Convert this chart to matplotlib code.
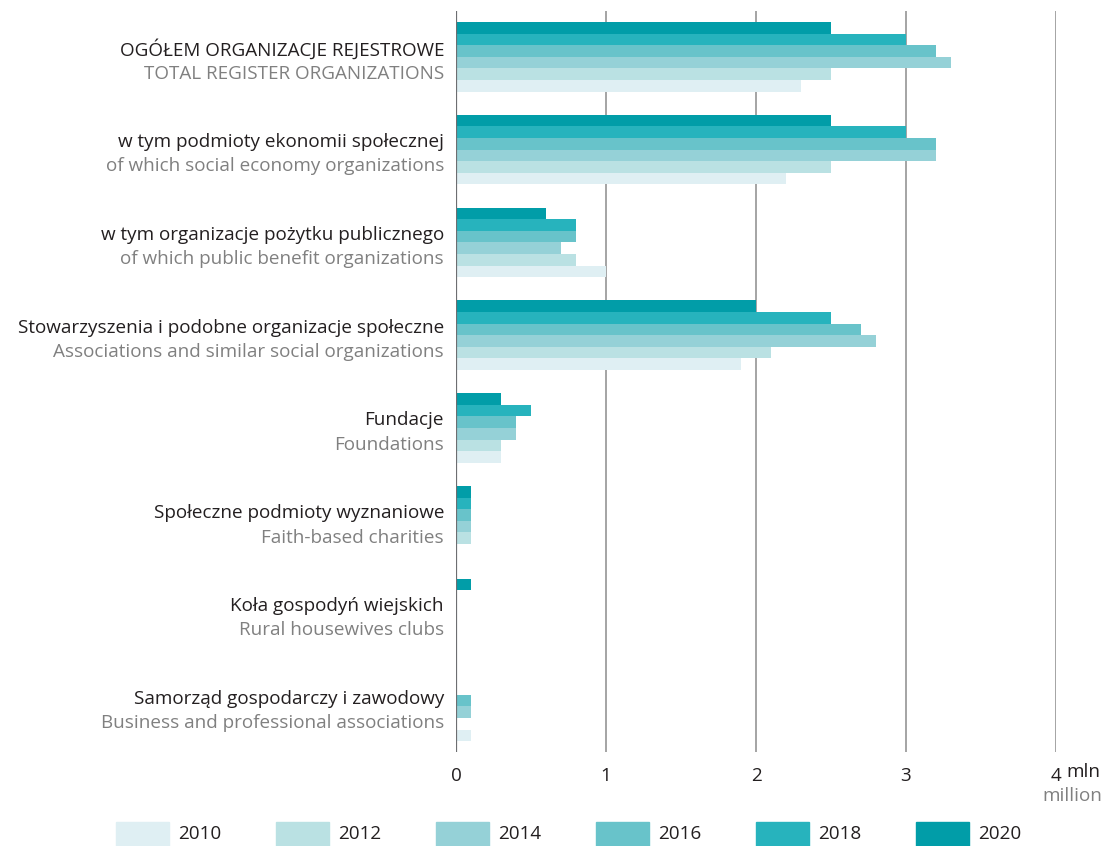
import numpy as np
import matplotlib
matplotlib.use("Agg")
import matplotlib.pyplot as plt
from matplotlib.patches import Rectangle

plt.rcParams['font.family'] = ['Open Sans', 'DejaVu Sans']

# Category labels (Polish / English)
labels_pl = [
    "OGÓŁEM ORGANIZACJE REJESTROWE",
    "w tym podmioty ekonomii społecznej",
    "w tym organizacje pożytku publicznego",
    "Stowarzyszenia i podobne organizacje społeczne",
    "Fundacje",
    "Społeczne podmioty wyznaniowe",
    "Koła gospodyń wiejskich",
    "Samorząd gospodarczy i zawodowy",
]
labels_en = [
    "TOTAL REGISTER ORGANIZATIONS",
    "of which social economy organizations",
    "of which public benefit organizations",
    "Associations and similar social organizations",
    "Foundations",
    "Faith-based charities",
    "Rural housewives clubs",
    "Business and professional associations",
]

years = ["2010", "2012", "2014", "2016", "2018", "2020"]

# values in million
v2010 = [2.3, 2.2, 1.0, 1.9, 0.3, 0.0, 0.0, 0.1]
v2012 = [2.5, 2.5, 0.8, 2.1, 0.3, 0.1, 0.0, 0.0]
v2014 = [3.3, 3.2, 0.7, 2.8, 0.4, 0.1, 0.0, 0.1]
v2016 = [3.2, 3.2, 0.8, 2.7, 0.4, 0.1, 0.0, 0.1]
v2018 = [3.0, 3.0, 0.8, 2.5, 0.5, 0.1, 0.0, 0.0]
v2020 = [2.5, 2.5, 0.6, 2.0, 0.3, 0.1, 0.1, 0.0]

colors = ["#dfeff3", "#bae1e3", "#95d1d7", "#68c3ca", "#27b3bd", "#019da8"]
series = [v2010, v2012, v2014, v2016, v2018, v2020]

xticks = [0, 1, 2, 3, 4]

FS = 13.6
DARK = '#231f20'
GREY = '#808080'

W, H = 1104, 846
fig = plt.figure(figsize=(W / 100, H / 100), dpi=100)

ax_left, ax_right = 456, 1056
ax_top, ax_bottom = 11, 752
ax = fig.add_axes([ax_left / W, 1 - ax_bottom / H,
                   (ax_right - ax_left) / W, (ax_bottom - ax_top) / H])

bar_px = 11.6
n_groups = len(labels_pl)
pitch = 8
top_pad = (22 - ax_top) / bar_px
total_units = (ax_bottom - ax_top) / bar_px
ax.set_ylim(total_units - top_pad, -top_pad)
ax.set_xlim(0, 4)

group_pos = np.arange(n_groups) * pitch
# 2020 on top of each group, 2010 at the bottom
for k, (vals, col) in enumerate(zip(series, colors)):
    slot = len(series) - 1 - k
    ys = group_pos + slot
    ax.barh(ys, vals, height=1.0, align='edge', color=col,
            edgecolor='none', zorder=2)

# grid lines
for x in xticks[1:]:
    ax.axvline(x, color='#9d9d9d', lw=1.3, zorder=1)
ax.axvline(0, color='#6d6e71', lw=1.6, zorder=3)

for s in ax.spines.values():
    s.set_visible(False)
ax.set_yticks([])
ax.set_xticks(xticks)
ax.set_xticklabels(["0", "1", "2", "3", "4"])
ax.tick_params(axis='x', length=0, pad=11, labelsize=FS, labelcolor=DARK)

trans = ax.get_yaxis_transform()
for i in range(n_groups):
    c = group_pos[i] + 3
    ax.text(-0.02, c - 0.65, labels_pl[i], transform=trans, ha='right',
            va='center', fontsize=FS, color=DARK)
    ax.text(-0.02, c + 1.45, labels_en[i], transform=trans, ha='right',
            va='center', fontsize=FS, color=GREY)

# unit labels next to the last tick
fig.text(1066 / W, 1 - 772 / H, "mln", ha='left', va='center',
         fontsize=FS, color=DARK)
fig.text(1102 / W, 1 - 796 / H, "million", ha='right', va='center',
         fontsize=FS, color=GREY)

# legend
for k, (yr, col) in enumerate(zip(years, colors)):
    x0 = 116 + 160 * k
    fig.patches.append(Rectangle((x0 / W, 1 - 847 / H), 53 / W, 25 / H,
                                 transform=fig.transFigure, color=col,
                                 zorder=1))
    fig.text((x0 + 62) / W, 1 - 834 / H, yr, ha='left', va='center',
             fontsize=FS, color=DARK)

fig.savefig("out.png", dpi=100)
